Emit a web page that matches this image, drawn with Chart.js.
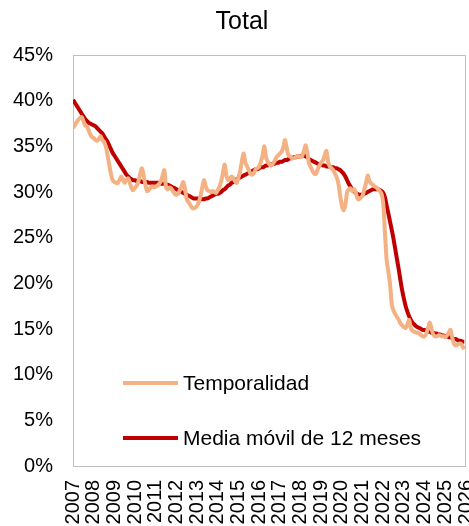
<!DOCTYPE html>
<html>
<head>
<meta charset="utf-8">
<script src="https://cdn.jsdelivr.net/npm/chart.js@4.4.1/dist/chart.umd.min.js"></script>
<style>
  html, body { margin: 0; padding: 0; background: #fff; }
  canvas { display: block; }
</style>
</head>
<body>
<canvas id="chart" width="469" height="526"></canvas>
<script>
const years = [2007, 2008, 2009, 2010, 2011, 2012, 2013, 2014, 2015, 2016,
               2017, 2018, 2019, 2020, 2021, 2022, 2023, 2024, 2025, 2026];

// monthly, one row per year (Jan..Dec)
const temporalidad = [
  37.0, 37.3, 37.6, 37.9, 38.1, 38.2, 37.8, 37.3, 37.2, 36.8, 36.3, 36.0,
  35.9, 35.7, 35.6, 35.8, 36.1, 35.7, 35.5, 35.0, 34.1, 33.0, 32.0, 31.3,
  31.1, 31.0, 31.0, 31.3, 31.7, 31.4, 31.0, 31.3, 31.5, 31.0, 30.4, 30.2,
  30.5, 30.7, 31.2, 32.0, 32.6, 31.8, 30.8, 30.1, 30.2, 30.5, 30.6, 30.5,
  30.6, 30.7, 30.9, 31.2, 31.8, 32.4, 30.5, 30.3, 30.5, 30.4, 30.1, 29.8,
  29.7, 29.8, 30.2, 30.6, 31.1, 30.3, 29.2, 28.9, 28.6, 28.3, 28.2, 28.3,
  28.5, 28.9, 29.6, 30.5, 31.3, 30.6, 30.2, 30.1, 30.0, 30.1, 30.0, 29.9,
  30.2, 30.6, 31.2, 32.1, 33.0, 31.8, 31.3, 31.5, 31.7, 31.5, 31.2, 31.0,
  31.6, 32.3, 33.4, 34.2, 33.2, 32.8, 32.4, 32.0, 31.9, 32.1, 32.5, 32.6,
  32.8, 33.3, 34.0, 35.0, 33.8, 33.3, 33.0, 32.9, 33.1, 33.4, 33.8, 34.0,
  34.2, 34.4, 34.9, 35.7, 34.8, 34.0, 33.9, 33.7, 33.7, 33.8, 33.9, 33.9,
  33.8, 34.0, 34.5, 35.1, 34.2, 33.1, 32.7, 32.3, 32.0, 32.0, 32.5, 32.9,
  33.2, 33.5, 34.0, 34.5, 33.3, 32.8, 32.6, 32.4, 32.0, 31.6, 30.9, 29.6,
  28.5, 28.0, 28.6, 30.0, 30.3, 30.4, 30.1, 30.3, 30.0, 29.3, 29.2, 29.4,
  29.6, 30.3, 31.0, 31.8, 31.2, 30.9, 30.8, 30.6, 30.5, 30.3, 30.1, 29.8,
  28.7, 25.5, 22.5, 21.2, 19.8, 17.6, 17.0, 16.6, 16.3, 16.0, 15.6, 15.4,
  15.2, 15.1, 15.5, 16.0, 15.1, 14.8, 14.7, 14.6, 14.6, 14.5, 14.3, 14.2,
  14.2, 14.5, 15.1, 15.7, 15.0, 14.4, 14.2, 14.2, 14.3, 14.3, 14.2, 14.2,
  14.1, 14.3, 14.6, 14.9, 14.1, 13.4, 13.2, 13.3, 13.4, 13.4, 13.1, 12.8
];

const mediaMovil = [
  40.1, 39.8, 39.5, 39.2, 38.9, 38.6, 38.3, 38.0, 37.8, 37.6, 37.5, 37.4,
  37.3, 37.2, 37.0, 36.8, 36.6, 36.4, 36.1, 35.8, 35.5, 35.1, 34.7, 34.3,
  34.0, 33.7, 33.4, 33.1, 32.8, 32.5, 32.2, 31.9, 31.7, 31.5, 31.4, 31.3,
  31.3, 31.2, 31.2, 31.2, 31.1, 31.1, 31.1, 31.1, 31.0, 31.0, 31.0, 31.0,
  31.0, 31.0, 31.0, 30.9, 30.9, 30.9, 30.8, 30.8, 30.7, 30.6, 30.5, 30.4,
  30.3, 30.2, 30.1, 30.0, 29.9, 29.8, 29.7, 29.6, 29.5, 29.4, 29.3, 29.3,
  29.3, 29.3, 29.2, 29.2, 29.2, 29.3, 29.3, 29.4, 29.5, 29.6, 29.7, 29.8,
  29.8, 29.9, 30.0, 30.2, 30.3, 30.5, 30.7, 30.8, 31.0, 31.1, 31.3, 31.4,
  31.5, 31.6, 31.7, 31.8, 31.9, 32.0, 32.1, 32.2, 32.3, 32.4, 32.5, 32.5,
  32.6, 32.7, 32.7, 32.8, 32.9, 32.9, 33.0, 33.0, 33.1, 33.1, 33.2, 33.2,
  33.3, 33.3, 33.4, 33.5, 33.5, 33.6, 33.7, 33.7, 33.8, 33.8, 33.9, 33.9,
  33.9, 34.0, 34.0, 33.9, 33.8, 33.6, 33.5, 33.4, 33.3, 33.2, 33.1, 33.0,
  33.0, 32.9, 32.9, 32.8, 32.8, 32.8, 32.7, 32.7, 32.6, 32.6, 32.5, 32.4,
  32.2, 32.0, 31.7, 31.3, 30.9, 30.6, 30.3, 30.1, 29.9, 29.8, 29.7, 29.7,
  29.7, 29.8, 29.9, 30.0, 30.1, 30.2, 30.3, 30.3, 30.3, 30.3, 30.2, 30.1,
  29.9, 29.4, 28.5, 27.6, 26.7, 25.8, 24.8, 23.7, 22.6, 21.5, 20.3, 19.2,
  18.3, 17.5, 16.9, 16.4, 16.0, 15.7, 15.5, 15.3, 15.2, 15.1, 15.0, 14.9,
  14.9, 14.8, 14.7, 14.7, 14.6, 14.6, 14.5, 14.5, 14.4, 14.4, 14.3, 14.3,
  14.2, 14.2, 14.1, 14.1, 14.0, 13.9, 13.9, 13.8, 13.7, 13.7, 13.6, 13.6
];

const seriesNames = ['Temporalidad', 'Media móvil de 12 meses'];
const chartTitle = 'Total';
const FONT = '"Liberation Sans", Arial, sans-serif';

// month i -> position on the year axis
const toPoints = (values) => values.map((v, i) => ({ x: years[0] + i / 12, y: v }));

const plotBorder = {
  id: 'plotBorder',
  beforeDatasetsDraw(chart) {
    const { ctx, chartArea: a } = chart;
    ctx.save();
    ctx.strokeStyle = '#BFBFBF';
    ctx.lineWidth = 1;
    ctx.strokeRect(a.left + 0.5, a.top + 0.5, a.width - 1, a.height);
    ctx.restore();
  }
};

// title is a bit right of the canvas centre in the original
const topTitle = {
  id: 'topTitle',
  afterDraw(chart) {
    const { ctx } = chart;
    ctx.save();
    ctx.font = '25px ' + FONT;
    ctx.fillStyle = '#000';
    ctx.textAlign = 'center';
    ctx.textBaseline = 'middle';
    ctx.fillText(chartTitle, 242, 22);
    ctx.restore();
  }
};

// legend sits inside the plot, bottom-left
const insideLegend = {
  id: 'insideLegend',
  afterDatasetsDraw(chart) {
    const { ctx, chartArea: a } = chart;
    const rowsY = [a.top + 328, a.top + 383];
    ctx.save();
    ctx.font = '21px ' + FONT;
    ctx.textBaseline = 'middle';
    ctx.fillStyle = '#000';
    chart.data.datasets.forEach((ds, i) => {
      const y = rowsY[i];
      ctx.strokeStyle = ds.borderColor;
      ctx.lineWidth = 4;
      ctx.beginPath();
      ctx.moveTo(a.left + 50, y);
      ctx.lineTo(a.left + 105, y);
      ctx.stroke();
      ctx.fillText(ds.label, a.left + 110, y + 1);
    });
    ctx.restore();
  }
};

const ctx = document.getElementById('chart').getContext('2d');
const chart = new Chart(ctx, {
  type: 'line',
  data: {
    datasets: [{
      label: seriesNames[0],
      data: toPoints(temporalidad),
      borderColor: '#F4B183',
      borderWidth: 4,
      tension: 0.3,
      pointRadius: 0
    }, {
      label: seriesNames[1],
      data: toPoints(mediaMovil),
      borderColor: '#C00000',
      borderWidth: 4,
      cubicInterpolationMode: 'monotone',
      pointRadius: 0
    }]
  },
  options: {
    responsive: false,
    animation: false,
    layout: { padding: { left: 0, right: 3, top: 55, bottom: 0 } },
    scales: {
      x: {
        type: 'linear',
        min: years[0],
        max: years[years.length - 1],
        grid: { display: false, drawTicks: false },
        border: { display: false },
        afterBuildTicks: (scale) => { scale.ticks = years.map(y => ({ value: y })); },
        afterFit: (scale) => { scale.height = 60; scale.paddingLeft = 0; scale.paddingRight = 0; },
        ticks: {
          autoSkip: false,
          minRotation: 90,
          maxRotation: 90,
          padding: 14,
          color: '#000',
          font: { family: FONT, size: 20 },
          callback: (v) => String(v)
        }
      },
      y: {
        min: 0,
        max: 45,
        grid: { display: false, drawTicks: false },
        border: { display: false },
        afterFit: (scale) => { scale.width = 73; scale.paddingTop = 0; },
        ticks: {
          stepSize: 5,
          padding: 20,
          color: '#000',
          font: { family: FONT, size: 20 },
          callback: (v) => v + '%'
        }
      }
    },
    plugins: {
      legend: { display: false },
      tooltip: { enabled: false },
      title: { display: false }
    }
  },
  plugins: [plotBorder, insideLegend, topTitle]
});
</script>
</body>
</html>
